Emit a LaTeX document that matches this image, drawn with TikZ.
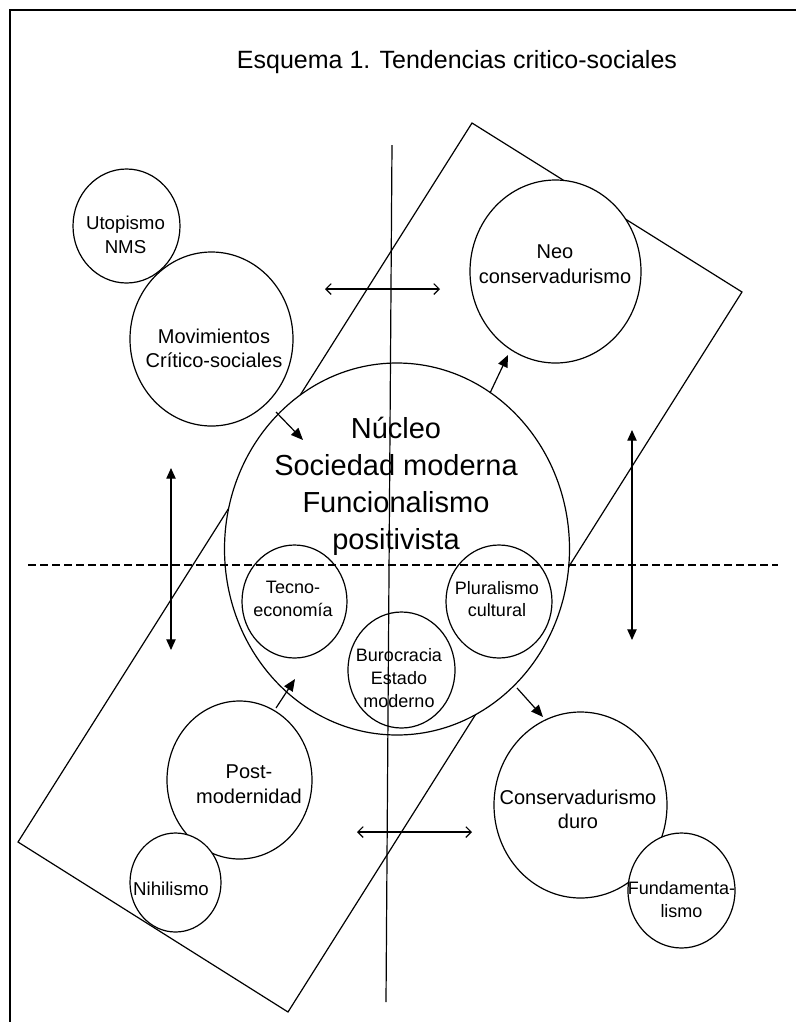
\documentclass[tikz,border=0pt]{standalone}
\usepackage{fontspec}
\setmainfont{Liberation Sans}
\usetikzlibrary{arrows.meta,shapes.geometric}
\begin{document}
\begin{tikzpicture}[x=0.75pt,y=-0.75pt,
  bub/.style={draw, fill=white, ellipse, inner sep=0pt, line width=0.9pt},
  lbl/.style={align=center, inner sep=0pt},
  fbig/.style={font=\fontsize{15}{18.5}\selectfont},
  fmid/.style={font=\fontsize{14}{18}\selectfont},
  fsml/.style={font=\fontsize{13.5}{17}\selectfont},
  fcore/.style={font=\fontsize{21.75}{27.75}\selectfont},
  solidarrow/.style={-{Triangle[length=9pt,width=7.5pt]}, line width=0.9pt},
  bisolid/.style={{Triangle[length=8pt,width=7pt]}-{Triangle[length=8pt,width=7pt]}, line width=0.9pt},
  biopen/.style={{Straight Barb[length=4pt,width=8pt]}-{Straight Barb[length=4pt,width=8pt]}, line width=0.9pt},
  axis/.style={line width=0.9pt}]
\useasboundingbox (0,0) rectangle (796,1022);
% frame
\draw[line width=1.5pt] (796,10) -- (10,10) -- (10,1022);
% title
\node[lbl, font=\fontsize{18.75}{22}\selectfont] (title) at (457,62) {Esquema 1. Tendencias critico-sociales};
% rotated rectangle
\coordinate (r1) at (472,123);
\coordinate (r2) at (742,292);
\coordinate (r3) at (288,1012);
\coordinate (r4) at (18,842);
\draw[axis] (r1) -- (r2) -- (r3) -- (r4) -- cycle;
% circles
\node[bub, minimum width=258.75pt, minimum height=279pt] (core) at (397,549) {};
\node[bub, minimum width=78.75pt, minimum height=84.75pt] (tecno) at (294.5,601.5) {};
\node[bub, minimum width=79.5pt, minimum height=84.75pt] (plur) at (499,601.5) {};
\node[bub, minimum width=80.25pt, minimum height=87pt] (buro) at (401.5,670) {};
\node[bub, minimum width=80.25pt, minimum height=85.5pt] (utop) at (126.5,226) {};
\node[bub, minimum width=122.25pt, minimum height=130.5pt] (movi) at (211.5,339) {};
\node[bub, minimum width=128.25pt, minimum height=137.25pt] (neo) at (555.5,271.5) {};
\node[bub, minimum width=108.75pt, minimum height=118.5pt] (post) at (239.5,780) {};
\node[bub, minimum width=68.25pt, minimum height=74.25pt] (nihil) at (175.5,882.5) {};
\node[bub, minimum width=129.75pt, minimum height=139.5pt] (cons) at (580.5,805) {};
\node[bub, minimum width=80.25pt, minimum height=86.25pt] (fund) at (681.5,890.5) {};
% axes
\coordinate (vtop) at (392,145);
\coordinate (vbot) at (386,1002);
\draw[axis] (vtop) -- (vbot);
\coordinate (hl) at (28,565);
\coordinate (hr) at (778,565);
\draw[axis, dash pattern=on 6pt off 3pt] (hl) -- (hr);
% labels
\node[lbl, fcore] (coreT) at (396,486) {Núcleo\\Sociedad moderna\\Funcionalismo\\positivista};
\node[lbl, fsml] (tecnoT) at (293,599) {Tecno-\\economía};
\node[lbl, fsml] (plurT) at (497,599) {Pluralismo\\cultural};
\node[lbl, fsml] (buroT) at (399,678) {Burocracia\\Estado\\moderno};
\node[lbl, fmid] (utopT) at (125.5,235) {Utopismo\\NMS};
\node[lbl, fbig] (moviT) at (214,348.5) {Movimientos\\Crítico-sociales};
\node[lbl, fbig] (neoT) at (555,264.5) {Neo\\conservadurismo};
\node[lbl, fbig] (postT) at (249,784.5) {Post-\\modernidad};
\node[lbl, fmid] (nihilT) at (171,889) {Nihilismo};
\node[lbl, fbig] (consT) at (578,809.5) {Conservadurismo\\duro};
\node[lbl, fsml] (fundT) at (681.5,899.5) {Fundamenta-\\lismo};
% radial arrows
\coordinate (a1s) at (276,412); \coordinate (a1e) at (303,440);
\coordinate (a2s) at (490,393); \coordinate (a2e) at (508,355);
\coordinate (a3s) at (276,708); \coordinate (a3e) at (295,679);
\coordinate (a4s) at (517,688); \coordinate (a4e) at (543,717);
\draw[solidarrow] (a1s) -- (a1e);
\draw[solidarrow] (a2s) -- (a2e);
\draw[solidarrow] (a3s) -- (a3e);
\draw[solidarrow] (a4s) -- (a4e);
% double arrows
\coordinate (h1l) at (325,289); \coordinate (h1r) at (440,289);
\coordinate (h2l) at (357,832); \coordinate (h2r) at (472,832);
\draw[biopen] (h1l) -- (h1r);
\draw[biopen] (h2l) -- (h2r);
\coordinate (v1t) at (171,468); \coordinate (v1b) at (171,650);
\coordinate (v2t) at (632,430); \coordinate (v2b) at (632,640);
\draw[bisolid] (v1t) -- (v1b);
\draw[bisolid] (v2t) -- (v2b);
\end{tikzpicture}
\end{document}
